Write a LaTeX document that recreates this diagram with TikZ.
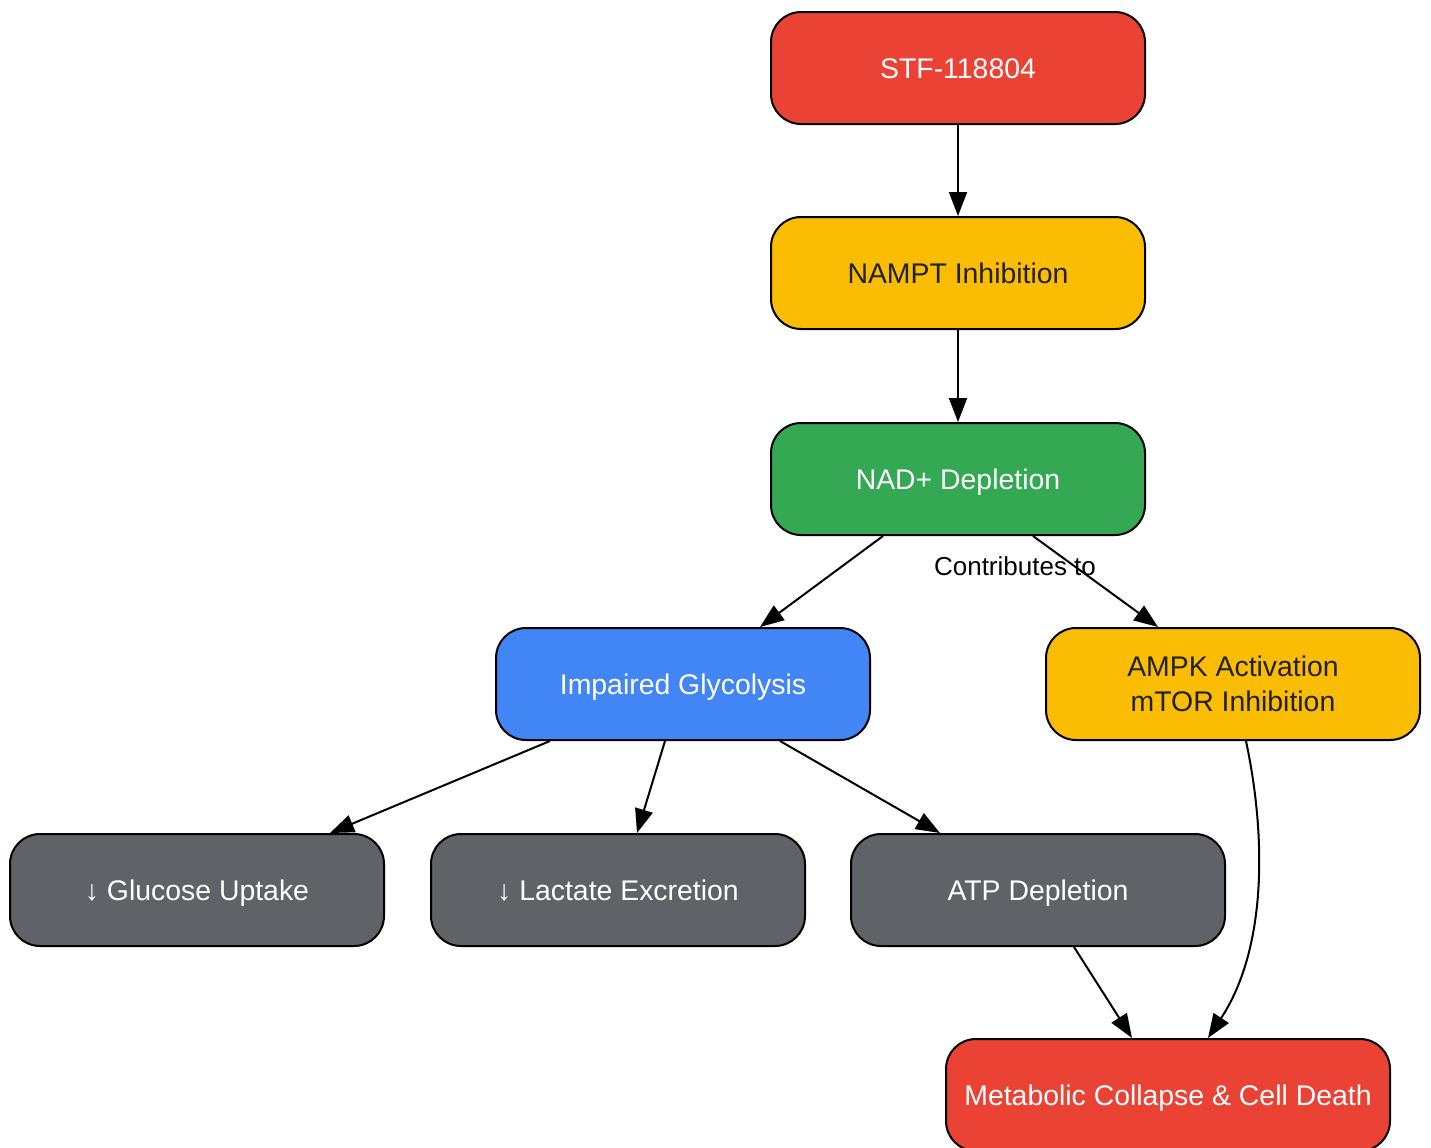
\documentclass[tikz,border=0pt]{standalone}
\usepackage{fontspec}
\setmainfont{Liberation Sans}
\usetikzlibrary{arrows.meta,calc}
\definecolor{gred}{HTML}{EA4335}
\definecolor{gyellow}{HTML}{FBBC04}
\definecolor{ggreen}{HTML}{34A853}
\definecolor{gblue}{HTML}{4285F4}
\definecolor{ggray}{HTML}{5F6368}
\definecolor{gdark}{HTML}{202124}
\tikzset{
  box/.style={draw=black, line width=1pt, rounded corners=15pt, minimum width=187pt, minimum height=56pt, align=center, inner sep=0pt, font=\fontsize{14.2}{17.5}\selectfont, text height=13pt, text depth=3pt},
  redbox/.style={box, fill=gred, text=white},
  yellowbox/.style={box, fill=gyellow, text=gdark},
  greenbox/.style={box, fill=ggreen, text=white},
  bluebox/.style={box, fill=gblue, text=white},
  graybox/.style={box, fill=ggray, text=white},
  conn/.style={draw=black, line width=1pt, -{Triangle[length=12pt,width=9pt]}},
  elabel/.style={font=\fontsize{13}{16}\selectfont, text=black, inner sep=0pt}
}
\begin{document}
\begin{tikzpicture}[x=0.5pt,y=-0.5pt]
\useasboundingbox (0,0) rectangle (1431,1147);
\clip (0,0) rectangle (1431,1147);
\node[redbox] (stf) at (958,68) {STF-118804};
\node[yellowbox] (nampt) at (958,273) {NAMPT Inhibition};
\node[greenbox] (nad) at (958,479) {NAD+ Depletion};
\node[bluebox] (imp) at (683,684) {Impaired Glycolysis};
\node[yellowbox, text height=, text depth=] (ampk) at (1233,684) {AMPK Activation\\mTOR Inhibition};
\node[graybox] (glu) at (197,890) {↓ Glucose Uptake};
\node[graybox] (lac) at (618,890) {↓ Lactate Excretion};
\node[graybox] (atp) at (1038,890) {ATP Depletion};
\node[redbox, minimum width=222pt] (met) at (1168,1095) {Metabolic Collapse \& Cell Death};

\draw[conn] (stf.south) -- (nampt.north);
\draw[conn] (nampt.south) -- (nad.north);
\draw[conn] ($(nad.south)+(-75,0)$) -- ($(imp.north)+(77,0)$);
\draw[conn] ($(nad.south)+(75,0)$) -- ($(ampk.north)+(-75,0)$);
\node[elabel] (lbl) at (1015,566) {Contributes to};
\draw[conn] ($(imp.south)+(-133,0)$) -- ($(glu.north)+(133,0)$);
\draw[conn] ($(imp.south)+(-18,0)$) -- ($(lac.north)+(19,0)$);
\draw[conn] ($(imp.south)+(97,0)$) -- ($(atp.north)+(-98,0)$);
\draw[conn] ($(atp.south)+(36,0)$) -- ($(met.north)+(-36,0)$);
\draw[conn] ($(ampk.south)+(13,0)$) .. controls (1267,840) and (1266,950) .. ($(met.north)+(40,0)$);
\end{tikzpicture}
\end{document}
